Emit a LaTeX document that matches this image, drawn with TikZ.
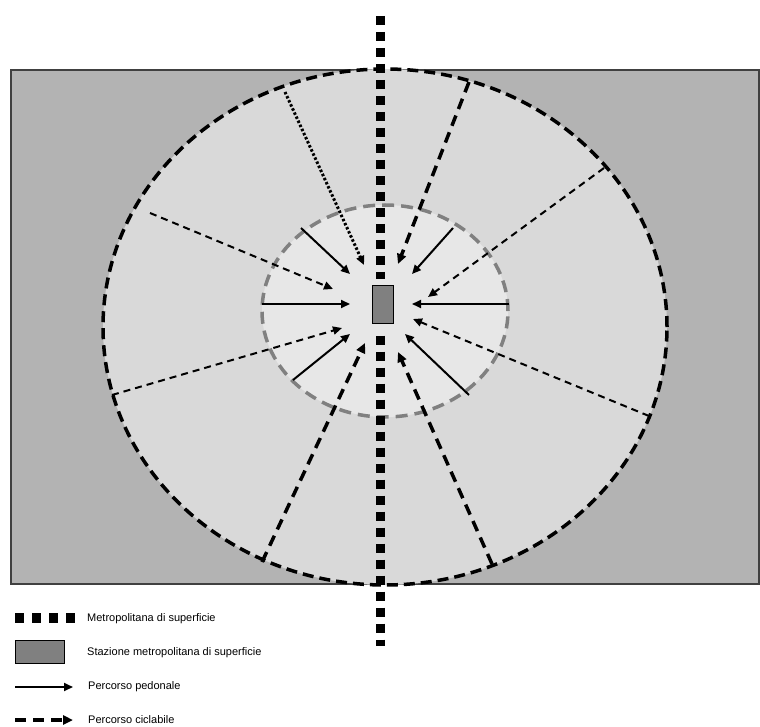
\documentclass[tikz,border=0pt]{standalone}
\usepackage{fontspec}
\setmainfont{Liberation Sans}
\usetikzlibrary{arrows.meta,positioning}
\definecolor{zonaext}{RGB}{179,179,179}
\definecolor{zonamed}{RGB}{217,217,217}
\definecolor{zonaint}{RGB}{231,231,231}
\definecolor{stazgr} {RGB}{128,128,128}
\tikzset{
  bordo/.style ={line width=3.5pt,dash pattern=on 11pt off 6pt},
  bordoi/.style={draw=stazgr,line width=3.5pt,dash pattern=on 12pt off 7pt},
  metro/.style ={line width=9pt,dash pattern=on 9pt off 7pt},
  staz/.style  ={rectangle,draw,fill=stazgr,line width=1pt,inner sep=0pt,
                 minimum width=21pt,minimum height=37pt},
  ped/.style   ={-{Triangle[length=9pt,width=8pt]},line width=2pt},
  cicl/.style  ={ped,dash pattern=on 7pt off 5pt},
  ciclw/.style ={-{Triangle[length=10pt,width=9pt]},line width=3.5pt,
                 dash pattern=on 11pt off 7pt},
  ciclp/.style ={-{Triangle[length=9pt,width=8pt]},line width=3pt,
                 dash pattern=on 2.5pt off 2pt},
  leg/.style   ={font=\fontsize{11}{13}\selectfont,anchor=west,inner sep=0pt},
}

\begin{document}
\begin{tikzpicture}[x=1pt,y=-1pt]
  \useasboundingbox (0,0) rectangle (760,727);
  \draw[fill=zonaext,draw=black!75,line width=1.2pt] (11,70) rectangle (759,584);
  \draw[fill=zonamed,bordo] (385,327) ellipse [x radius=282pt,y radius=258pt];
  \draw[fill=zonaint,bordoi] (385,311) ellipse [x radius=123pt,y radius=106pt];

  \node[staz] (staz) at (382.5,304.5) {};
  \coordinate (mtop) at (380.5,16);
  \coordinate (mbot) at (380.5,646);
  \draw[metro] (mtop) -- ([xshift=-2pt,yshift=6pt]staz.north);
  \draw[metro] ([xshift=-2pt,yshift=-12pt]staz.south) -- (mbot);

  \coordinate (pw)  at (262,304);   \coordinate (pwt) at (350,304);
  \coordinate (pe)  at (509,304);   \coordinate (pet) at (412,304);
  \coordinate (pnw) at (301,228);   \coordinate (pnwt) at (350,274);
  \coordinate (pne) at (453,228);   \coordinate (pnet) at (412,274);
  \coordinate (psw) at (293,380);   \coordinate (pswt) at (350,334);
  \coordinate (pse) at (469,395);   \coordinate (pset) at (405,334);
  \draw[ped] (pw)  -- (pwt);
  \draw[ped] (pe)  -- (pet);
  \draw[ped] (pnw) -- (pnwt);
  \draw[ped] (pne) -- (pnet);
  \draw[ped] (psw) -- (pswt);
  \draw[ped] (pse) -- (pset);

  \coordinate (cnw) at (150,213);   \coordinate (cnwt) at (333,289);
  \coordinate (csw) at (112,395);   \coordinate (cswt) at (342,328);
  \coordinate (cne) at (604,168);   \coordinate (cnet) at (428,297);
  \coordinate (cse) at (649,416);   \coordinate (cset) at (413,319);
  \draw[cicl] (cnw) -- (cnwt);
  \draw[cicl] (csw) -- (cswt);
  \draw[cicl] (cne) -- (cnet);
  \draw[cicl] (cse) -- (cset);

  \coordinate (wn)  at (469,82);    \coordinate (wnt)  at (398,264);
  \coordinate (wsw) at (262,562);   \coordinate (wswt) at (365,343);
  \coordinate (wse) at (492,564);   \coordinate (wset) at (398,352);
  \draw[ciclw] (wn)  -- (wnt);
  \draw[ciclw] (wsw) -- (wswt);
  \draw[ciclw] (wse) -- (wset);

  \coordinate (dn) at (285,92);     \coordinate (dnt) at (364,265);
  \draw[ciclp] (dn) -- (dnt);

  \coordinate (lm1) at (15,618);    \coordinate (lm2) at (75,618);
  \draw[metro,line width=10pt,dash pattern=on 9pt off 8pt] (lm1) -- (lm2);
  \node[leg] (tmetro) at (87,619) {Metropolitana di superficie};
  \node[staz,minimum width=49pt,minimum height=23pt] (lstaz) at (39.5,651.5) {};
  \node[leg] (tstaz) at (87,653) {Stazione metropolitana di superficie};
  \coordinate (lp1) at (15,687);    \coordinate (lp2) at (73,687);
  \draw[ped] (lp1) -- (lp2);
  \node[leg] (tped) at (88,687) {Percorso pedonale};
  \coordinate (lc1) at (15,720);    \coordinate (lc2) at (73,720);
  \draw[ciclw] (lc1) -- (lc2);
  \node[leg] (tcicl) at (88,720) {Percorso ciclabile};
\end{tikzpicture}
\end{document}
